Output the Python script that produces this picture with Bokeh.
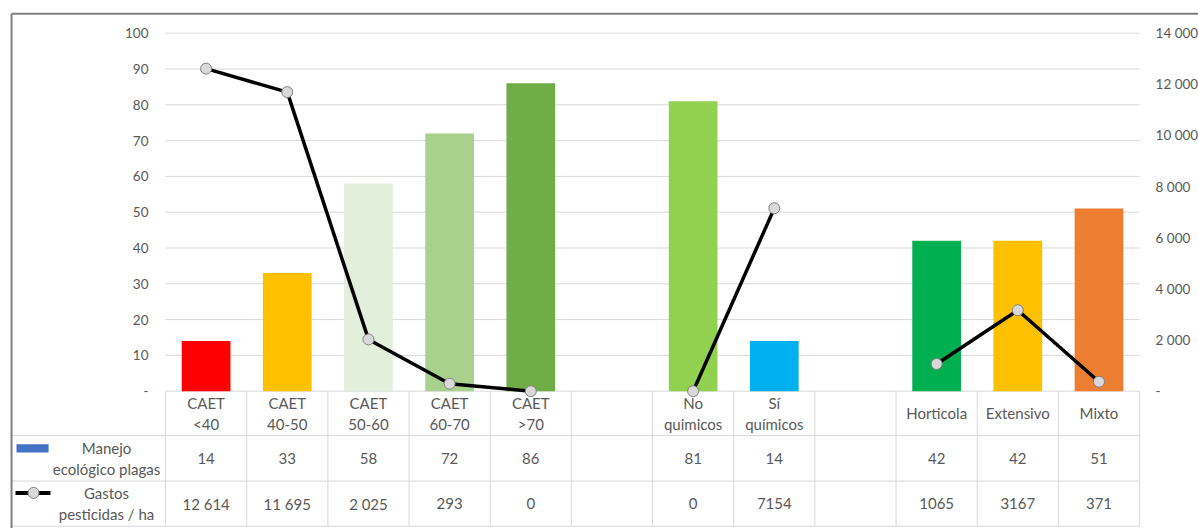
import numpy as np
from bokeh.plotting import figure
from bokeh.models import Range1d, LinearAxis, FixedTicker
from bokeh.core.properties import value
from bokeh.embed import file_html
from bokeh.resources import INLINE

# ---------------- data ----------------
categories = ["CAET\n<40", "CAET\n40-50", "CAET\n50-60", "CAET\n60-70", "CAET\n>70", "",
              "No\nquimicos", "Sí\nquímicos", "", "Horticola", "Extensivo", "Mixto"]
manejo = [14, 33, 58, 72, 86, None, 81, 14, None, 42, 42, 51]
gastos = [12614, 11695, 2025, 293, 0, None, 0, 7154, None, 1065, 3167, 371]
gastos_labels = ["12 614", "11 695", "2 025", "293", "0", "", "0", "7154", "", "1065", "3167", "371"]
bar_colors = ["#FF0000", "#FFC000", "#E2EFDA", "#A9D18E", "#70AD47", None,
              "#92D050", "#00B0F0", None, "#00B050", "#FFC000", "#ED7D31"]
series_names = ["Manejo\necológico plagas", "Gastos\npesticidas / ha"]
left_ticks = [0, 10, 20, 30, 40, 50, 60, 70, 80, 90, 100]
left_tick_labels = ["-", "10", "20", "30", "40", "50", "60", "70", "80", "90", "100"]
right_ticks = [0, 2000, 4000, 6000, 8000, 10000, 12000, 14000]
right_tick_labels = ["-", "2 000", "4 000", "6 000", "8 000", "10 000", "12 000", "14 000"]

# ---------------- style / layout ----------------
FONT = "Lato"
TXT = "#595959"
GRID = "#D9D9D9"
BORDER = "#7F7F7F"
n = len(categories)
idx = np.arange(n)
X_START, X_END = -2.533, n + 0.226          # frame covers the whole canvas
Y_START, Y_END = -38.35, 109.13
SEC = right_ticks[-1] / left_ticks[-1]
XL, XR = -0.5, n - 0.5                        # plot-area / table edges
XB = -2.397                                   # outer chart border
YB = 105.4

p = figure(width=1198, height=528, output_backend="svg", toolbar_location=None,
           x_range=Range1d(X_START, X_END), y_range=Range1d(Y_START, Y_END),
           x_axis_location=None, y_axis_location=None,
           min_border_left=0, min_border_right=0, min_border_top=0, min_border_bottom=0)
p.outline_line_color = None
p.background_fill_color = "white"
p.border_fill_color = "white"
p.xgrid.visible = False
p.ygrid.visible = False
p.extra_y_ranges = {"sec": Range1d(Y_START * SEC, Y_END * SEC)}

ya = LinearAxis(ticker=FixedTicker(ticks=left_ticks), fixed_location=XL,
                major_label_overrides={t: l for t, l in zip(left_ticks, left_tick_labels)})
ra = LinearAxis(y_range_name="sec", ticker=FixedTicker(ticks=right_ticks), fixed_location=XR,
                major_label_overrides={t: l for t, l in zip(right_ticks, right_tick_labels)})
p.add_layout(ya, "left")
p.add_layout(ra, "right")
for ax, so in ((ya, 17), (ra, 16)):
    ax.axis_line_color = None
    ax.major_tick_line_color = None
    ax.minor_tick_line_color = None
    ax.major_tick_out = 0
    ax.major_tick_in = 0
    ax.major_label_standoff = so
    ax.major_label_text_font = FONT
    ax.major_label_text_font_size = "13.5px"
    ax.major_label_text_color = TXT

# gridlines of the plot area
p.segment(x0=[XL] * len(left_ticks), y0=left_ticks, x1=[XR] * len(left_ticks), y1=left_ticks,
          line_color=GRID, line_width=1)

# bars
bx = [i for i, v in zip(idx, manejo) if v is not None]
btop = [v for v in manejo if v is not None]
bcol = [c for c, v in zip(bar_colors, manejo) if v is not None]
p.vbar(x=bx, top=btop, bottom=0, width=0.6, fill_color=bcol, line_color=None)

# line
gy = np.array([np.nan if v is None else v for v in gastos], dtype=float)
p.line(x=idx, y=gy, y_range_name="sec", line_color="black", line_width=3.5)
mx = [i for i, v in zip(idx, gastos) if v is not None]
my = [v for v in gastos if v is not None]
p.scatter(x=mx, y=my, y_range_name="sec", size=11, marker="circle",
          fill_color="#D9D9D9", line_color="#808080", line_width=1)

# data table
rows = [0, -12.4, -25.1, -37.7]
xb = np.arange(n + 1) - 0.5
p.segment(x0=xb, y0=[rows[0]] * len(xb), x1=xb, y1=[rows[-1]] * len(xb),
          line_color=GRID, line_width=1)
p.segment(x0=[XB] * 3, y0=rows[1:], x1=[XR] * 3, y1=rows[1:],
          line_color=GRID, line_width=1)

mids = [(rows[i] + rows[i + 1]) / 2 for i in range(3)]
manejo_labels = ["" if v is None else str(v) for v in manejo]
for texts, ym in zip([categories, manejo_labels, gastos_labels], mids):
    p.text(x=idx, y=[ym] * n, text=texts, text_align="center", text_baseline="middle",
           text_font=value(FONT), text_font_size="15px", text_color=TXT,
           text_line_height=1.15)

# header column: series names and legend keys
p.text(x=[-1.227] * 2, y=mids[1:], text=series_names, text_align="center",
       text_baseline="middle", text_font=value(FONT), text_font_size="15px",
       text_color=TXT, text_line_height=1.15)
p.quad(left=[-2.336], right=[-1.941], top=[-14.8], bottom=[-17.1],
       fill_color="#4472C4", line_color=None)
p.segment(x0=[-2.348], y0=[-28.4], x1=[-1.917], y1=[-28.4], line_color="black", line_width=4)
p.scatter(x=[-2.126], y=[-28.4], size=11, marker="circle",
          fill_color="#D9D9D9", line_color="#808080", line_width=1)

# outer chart border
p.segment(x0=[XB, XB], y0=[YB, YB], x1=[X_END + 1, XB], y1=[YB, Y_START - 1],
          line_color=BORDER, line_width=2)

open("out.html", "w").write(file_html(p, INLINE))
